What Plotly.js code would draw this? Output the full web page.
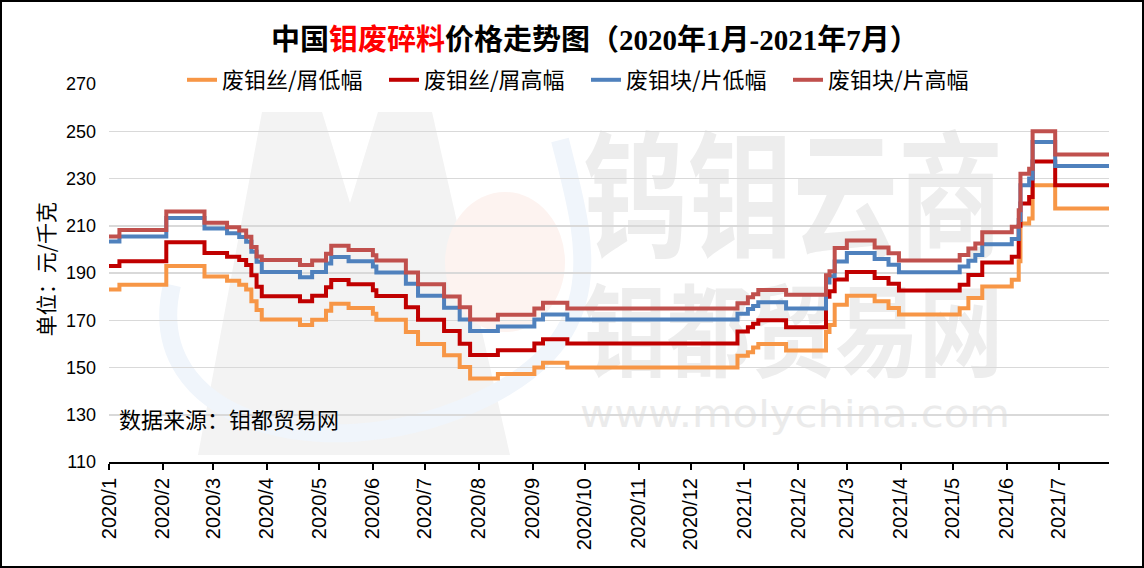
<!DOCTYPE html>
<html>
<head>
<meta charset="utf-8">
<script src="https://cdn.plot.ly/plotly-3.0.1.min.js"></script>
<style>
  html, body { margin:0; padding:0; background:#fff; }
  #wrap { position:relative; width:1144px; height:568px; overflow:hidden; background:#fff; }
  #wm { position:absolute; left:0; top:0; z-index:0; }
  #chart { position:absolute; left:0; top:0; width:1144px; height:568px; z-index:1; }
  #frame { position:absolute; left:0; top:0; width:1144px; height:568px; box-sizing:border-box; border:2px solid #000; z-index:2; pointer-events:none; }
</style>
</head>
<body>
<div id="wrap">
  <svg id="wm" width="1144" height="568">
    <polygon points="198,455 262,112 322,112 350,203 378,112 432,112 510,455" fill="#F3F3F3"/>
    <ellipse cx="505" cy="262" rx="60" ry="70" fill="#FDF3F0"/>
    <path d="M 172 285 C 140 420, 320 470, 470 405 S 585 240, 560 140" stroke="#F0F5FB" stroke-width="18" fill="none"/>
    <g font-family="Liberation Sans, Noto Sans CJK SC" font-weight="bold" fill="#EDEDED">
      <text transform="translate(583,247) scale(1,1.32)" font-size="104" textLength="420" lengthAdjust="spacingAndGlyphs">钨钼云商</text>
      <text transform="translate(583,369) scale(1,1.2)" font-size="84" textLength="420" lengthAdjust="spacingAndGlyphs">钼都贸易网</text>
    </g>
    <text x="580" y="427" font-family="DejaVu Sans" font-size="38" fill="#EBEBEB" textLength="430" lengthAdjust="spacingAndGlyphs">www.molychina.com</text>
  </svg>
  <div id="chart"></div>
  <div id="frame"></div>
</div>
<script>
// ---- data ----
const dates = [
  '2020-01-01','2020-01-07','2020-02-03','2020-02-25','2020-03-09','2020-03-16','2020-03-20','2020-03-23','2020-03-26','2020-03-29',
  '2020-04-20','2020-04-27','2020-05-05','2020-05-08','2020-05-18','2020-06-01','2020-06-03','2020-06-20','2020-06-27','2020-07-12',
  '2020-07-21','2020-07-27','2020-08-12','2020-09-02','2020-09-07','2020-09-21','2020-12-28','2021-01-03','2021-01-06','2021-01-09',
  '2021-01-25','2021-02-17','2021-02-19','2021-02-22','2021-03-01','2021-03-17','2021-03-25','2021-03-31','2021-05-05','2021-05-10',
  '2021-05-14','2021-05-18','2021-06-04','2021-06-08','2021-06-09','2021-06-14','2021-06-16','2021-06-29','2021-07-30'
];
const wireLow = [
  183,185,193,188.5,186.7,185,183,178,174.3,170.3,
  168,170.2,174,177,175.2,172.8,170.2,165,160,155.2,
  150.2,145.3,147.2,150,152,150,155,156.5,158.5,160,
  157.2,165,168,176.6,180.4,178,175.2,172.4,175.1,179.4,
  179.4,184.3,187.1,195,211,213.1,227.1,217.3,217.3
];
const wireHigh = [
  193,195,203,198.5,196.9,195.5,193.4,189,184.2,180.2,
  178,180.4,184,187,185.2,182.7,180.3,175.5,170.2,165.5,
  160.1,155.3,157.3,160.2,162,160.2,165.2,167,168.5,170,
  167,180,182.3,187.2,190.4,187.9,185.5,182.6,185,189.2,
  189.2,194.4,196.9,210,219.4,222.2,237.2,227.1,227.1
];
const blockLow = [
  203.3,205.5,213.3,208.8,206.8,205.2,203.2,199,194.8,190.4,
  188.2,190.4,194,196.8,195,192.7,190.2,185.5,180.4,175.3,
  170.3,165.5,167.4,170.3,172.4,170.3,172.7,174.8,176,177.6,
  175,186,188.6,194.9,198.5,195.9,193.5,190.3,192.7,195.2,
  197.6,202.2,204.4,212.4,227.1,230,245.4,235.3,235.3
];
const blockHigh = [
  205.4,208.2,216,211.3,209.4,208,205.3,201,197,195.5,
  193.4,195.3,198.2,201.5,199.7,197.5,195.3,190.2,185.2,180.1,
  175.5,170.3,172.3,175,177.4,175,177.2,179.7,181,182.8,
  180.8,189,190.7,200.6,203.8,200.8,198.4,195.3,197.6,200.4,
  202.5,207.2,209.6,216.6,232,234.1,250,240.2,240.2
];
const seriesNames = ['废钼丝/屑低幅','废钼丝/屑高幅','废钼块/片低幅','废钼块/片高幅'];
const seriesColors = ['#F79646','#C00000','#4F81BD','#C0504D'];
const tickDates = [
  '2020-01-01','2020-02-01','2020-03-01','2020-04-01','2020-05-01','2020-06-01','2020-07-01','2020-08-01','2020-09-01','2020-10-01',
  '2020-11-01','2020-12-01','2021-01-01','2021-02-01','2021-03-01','2021-04-01','2021-05-01','2021-06-01','2021-07-01'
];
const tickLabels = [
  '2020/1','2020/2','2020/3','2020/4','2020/5','2020/6','2020/7','2020/8','2020/9','2020/10',
  '2020/11','2020/12','2021/1','2021/2','2021/3','2021/4','2021/5','2021/6','2021/7'
];
const yTicks = [110,130,150,170,190,210,230,250,270];

const values = [wireLow, wireHigh, blockLow, blockHigh];
const traces = values.map((v, i) => ({
  x: dates, y: v, type: 'scatter', mode: 'lines', name: seriesNames[i],
  line: { color: seriesColors[i], width: 4, shape: 'hv' }
}));

const cjk = 'Noto Sans CJK SC, sans-serif';
const layout = {
  width: 1144, height: 568,
  margin: { l: 109, r: 35, t: 84, b: 106 },
  paper_bgcolor: 'rgba(0,0,0,0)', plot_bgcolor: 'rgba(0,0,0,0)',
  title: {
    text: '<b>中国<span style="color:#FF0000">钼废碎料</span>价格走势图（2020年1月-2021年7月）</b>',
    font: { family: 'Liberation Serif, Noto Sans CJK SC, serif', size: 29, color: '#000' },
    x: 0.52, xref: 'container', xanchor: 'center', y: 0.93, yref: 'container', yanchor: 'middle'
  },
  showlegend: true,
  legend: {
    orientation: 'h', x: 0.073, xanchor: 'left', y: 1.0106, yanchor: 'middle',
    font: { family: cjk, size: 22, color: '#000' }, bgcolor: 'rgba(0,0,0,0)',
    entrywidth: 157, entrywidthmode: 'pixels', traceorder: 'normal'
  },
  xaxis: {
    type: 'date', range: ['2020-01-01', '2021-07-30'],
    tickmode: 'array', tickvals: tickDates, ticktext: tickLabels, tickangle: -90,
    ticks: 'outside', ticklen: 6, tickwidth: 2, tickcolor: '#000',
    showline: true, linecolor: '#000', linewidth: 2, showgrid: false, zeroline: false,
    tickfont: { family: 'Liberation Sans, Arial, sans-serif', size: 20, color: '#000' }
  },
  yaxis: {
    range: [110, 270], tickmode: 'array', tickvals: yTicks,
    showgrid: true, gridcolor: '#D9D9D9', gridwidth: 1.5, zeroline: false, showline: false,
    ticks: '', ticklabelstandoff: 12,
    tickfont: { family: 'Liberation Sans, Arial, sans-serif', size: 18, color: '#000' }
  },
  annotations: [
    { text: '单位：元/千克', textangle: -90, xref: 'paper', yref: 'paper', x: -0.064, y: 0.51,
      xanchor: 'center', yanchor: 'middle', showarrow: false, font: { family: cjk, size: 21, color: '#000' } },
    { text: '数据来源：钼都贸易网', xref: 'paper', yref: 'paper', x: 0.008, y: 0.116,
      xanchor: 'left', yanchor: 'middle', showarrow: false, font: { family: cjk, size: 22, color: '#000' } }
  ]
};
Plotly.newPlot('chart', traces, layout, { displayModeBar: false, staticPlot: true });
</script>
</body>
</html>
